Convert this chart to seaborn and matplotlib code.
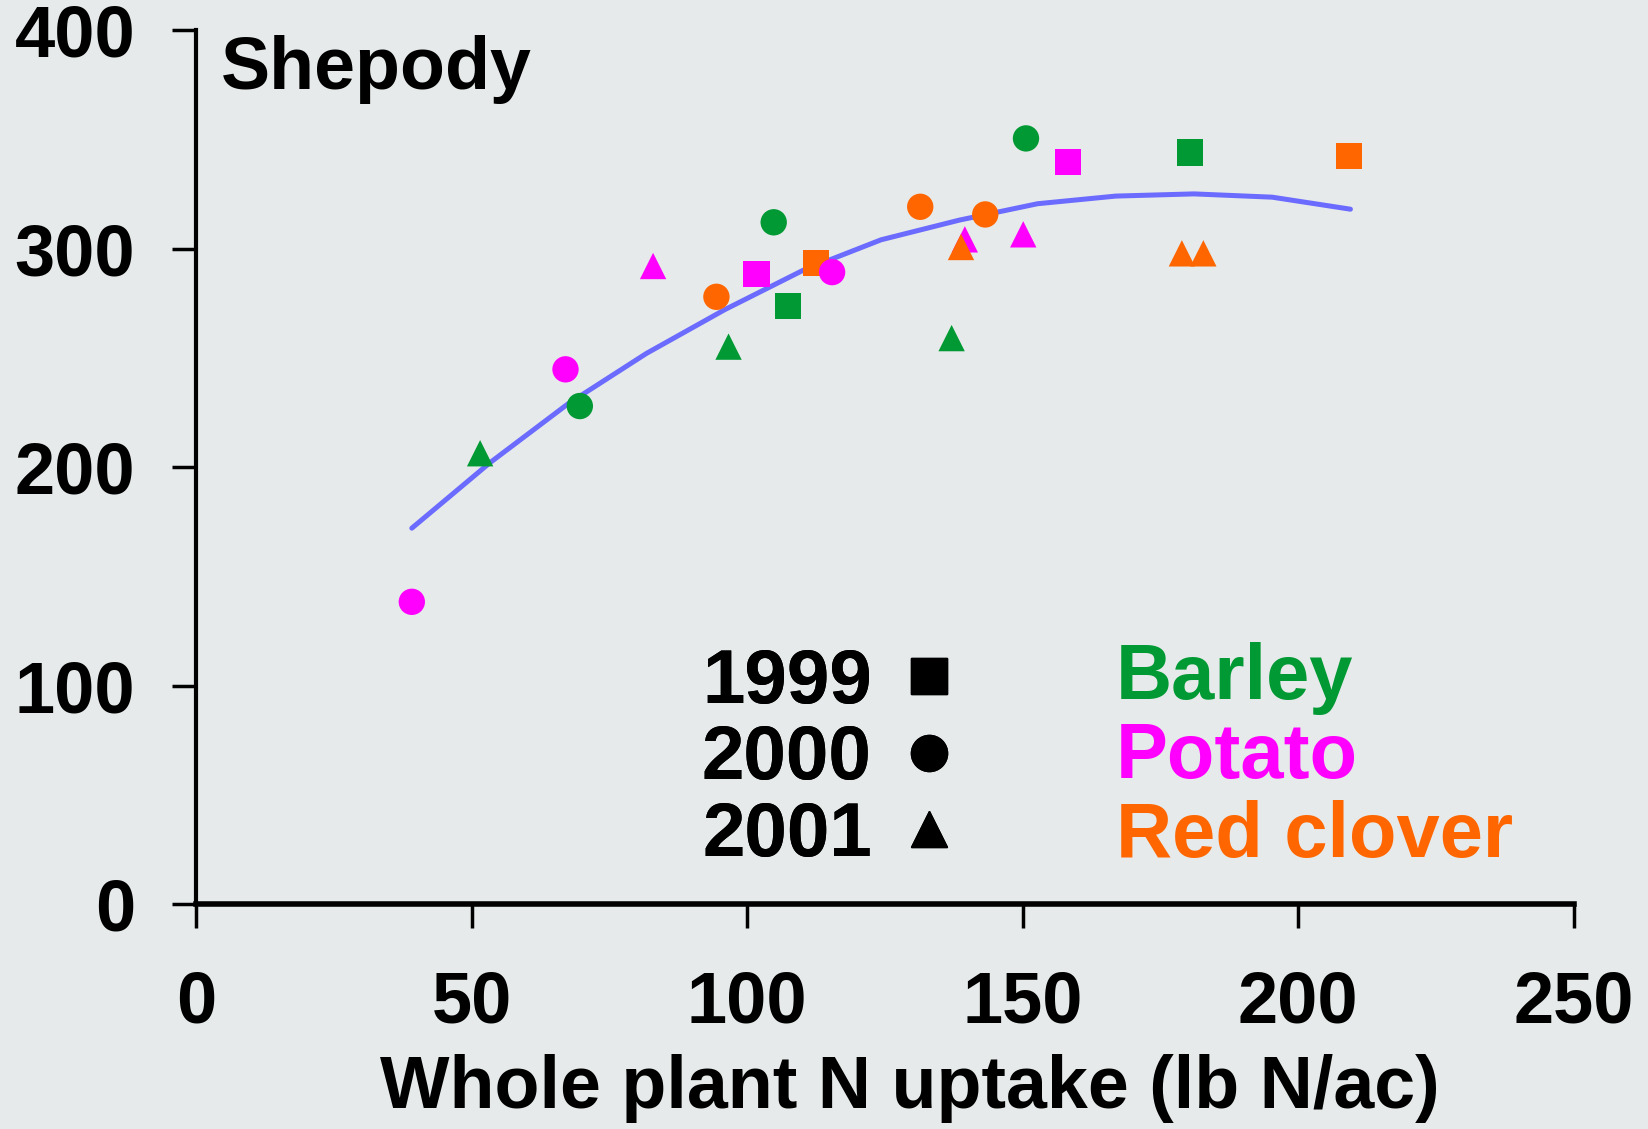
import matplotlib
matplotlib.use("Agg")
import matplotlib.pyplot as plt
import seaborn as sns
import pandas as pd
from matplotlib.lines import Line2D

# values
n_uptake = [107.4, 180.4, 101.7, 158.2, 112.5, 209.3,
            69.6, 104.8, 150.6, 39.1, 67.0, 115.4, 94.4, 131.4, 143.2,
            51.5, 96.6, 137.1, 82.9, 139.5, 150.1, 138.8, 178.9, 182.8]
tuber_yield = [273.8, 343.9, 288.2, 339.6, 293.5, 342.3,
               227.9, 312.0, 350.4, 138.3, 244.7, 289.2, 277.9, 319.1, 315.6,
               206.3, 255.1, 259.0, 292.0, 304.2, 306.5, 300.7, 297.8, 297.8]
crop = ["Barley", "Barley", "Potato", "Potato", "Red clover", "Red clover",
        "Barley", "Barley", "Barley", "Potato", "Potato", "Potato", "Red clover", "Red clover", "Red clover",
        "Barley", "Barley", "Barley", "Potato", "Potato", "Potato", "Red clover", "Red clover", "Red clover"]
year = ["1999"] * 6 + ["2000"] * 9 + ["2001"] * 9

fit_x = [39.1, 53.3, 67.5, 81.7, 95.9, 110.1, 124.3, 138.5, 152.7, 166.9, 181.1, 195.3, 209.5]
fit_y = [172, 202, 229, 252, 272, 290, 304, 313, 320.5, 324, 325, 323.5, 318]

crops = ["Barley", "Potato", "Red clover"]
years = ["1999", "2000", "2001"]
colors = {"Barley": "#009933", "Potato": "#FF00FF", "Red clover": "#FF6600"}
markers = {"1999": "s", "2000": "o", "2001": "^"}

df = pd.DataFrame({"N": n_uptake, "Yield": tuber_yield, "Crop": crop, "Year": year})
fit = pd.DataFrame({"N": fit_x, "Yield": fit_y})

bg = "#E6EAEA"
sns.set_style("white")
plt.rcParams["font.family"] = ["Liberation Sans", "DejaVu Sans"]
plt.rcParams["font.weight"] = "bold"
plt.rcParams["text.color"] = "black"
plt.rcParams["axes.labelcolor"] = "black"

fig = plt.figure(figsize=(16.48, 11.29), dpi=100, facecolor=bg)
ax = fig.add_axes([0.1192, 0.1993, 0.8356, 0.7741])
ax.set_facecolor(bg)

sns.lineplot(data=fit, x="N", y="Yield", color="#6B6BFF", linewidth=3.6, ax=ax)
sns.scatterplot(data=df, x="N", y="Yield", hue="Crop", style="Year",
                palette=colors, markers=markers, s=360, linewidth=0,
                legend=False, ax=ax, zorder=3)

ax.set_xlim(0, 250)
ax.set_ylim(0, 400)
ax.set_xticks([0, 50, 100, 150, 200, 250])
ax.set_yticks([0, 100, 200, 300, 400])
for s in ["top", "right"]:
    ax.spines[s].set_visible(False)
ax.spines["left"].set_linewidth(3)
ax.spines["bottom"].set_linewidth(4)
ax.spines["left"].set_color("black")
ax.spines["bottom"].set_color("black")
ax.tick_params(axis="both", direction="out", length=17, width=2.5, colors="black",
               labelsize=52, left=True, bottom=True)
ax.tick_params(axis="y", pad=27)
ax.tick_params(axis="x", pad=30)
for lab in ax.get_xticklabels() + ax.get_yticklabels():
    lab.set_fontweight("bold")

ax.set_xlabel("Whole plant N uptake (lb N/ac)", fontsize=53, fontweight="bold")
ax.xaxis.set_label_coords(0.518, -0.172)
ax.set_ylabel("")

ax.text(0.0176, 0.9325, "Shepody", transform=ax.transAxes, fontsize=53,
        fontweight="bold", va="baseline", ha="left")

handles = [Line2D([], [], marker=markers[y], color="black", linestyle="", markersize=26)
           for y in years]
leg = ax.legend(handles, years, markerfirst=False, frameon=False, loc="upper left",
                bbox_to_anchor=(0.367, 0.293), borderpad=0, borderaxespad=0,
                handlelength=0.5, handletextpad=0.5, labelspacing=0.07,
                prop={"size": 55, "weight": "bold"})
for t in leg.get_texts():
    t.set_color("black")
ax.add_artist(leg)

for c, yb in zip(crops, [0.2346, 0.1445, 0.0543]):
    ax.text(0.6678, yb, c, transform=ax.transAxes, fontsize=56, fontweight="bold",
            color=colors[c], va="baseline", ha="left")

fig.savefig("out.png", dpi=100, facecolor=bg)
